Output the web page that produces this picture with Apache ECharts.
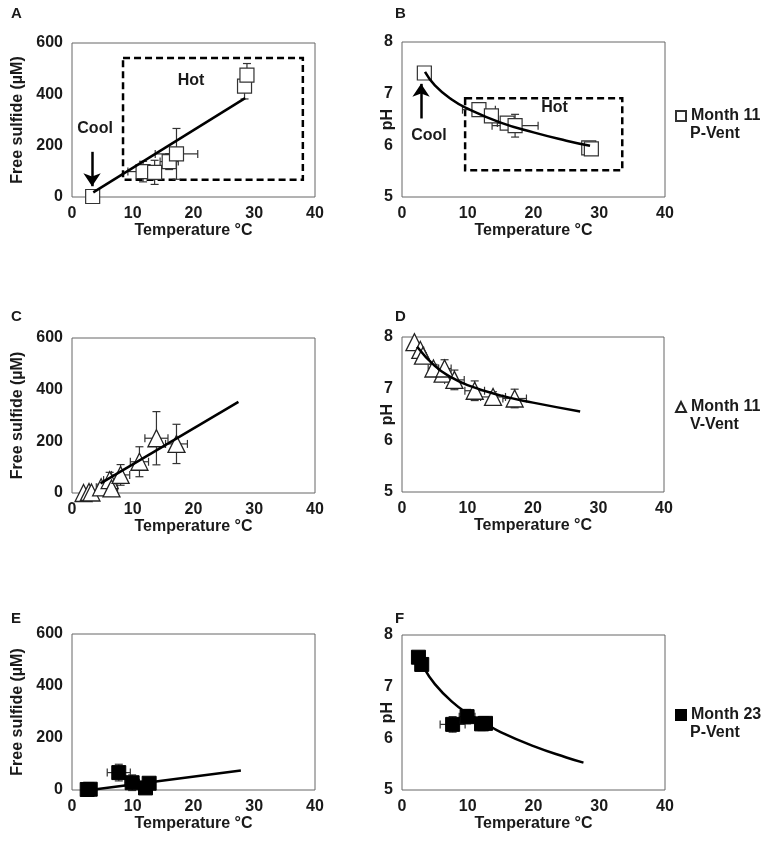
<!DOCTYPE html>
<html>
<head>
<meta charset="utf-8">
<script src="https://cdn.jsdelivr.net/npm/echarts@6/dist/echarts.min.js"></script>
<style>
html, body { margin: 0; padding: 0; background: #fff; }
#main { width: 764px; height: 852px; }
</style>
</head>
<body>
<div id="main"></div>
<script>
// Month 11 P-Vent (panels A, B)
var tempP11 = [3.4, 11.7, 13.6, 16.0, 17.2, 28.4, 28.8];
var tempErrP11 = [0, 2.5, 1.0, 1.5, 3.5, 0, 0];
var sulfideP11 = [2, 99, 96, 138, 168, 432, 475];
var sulfideErrP11 = [0, 40, 47, 31, 99, 50, 45];
var pHP11 = [7.40, 6.69, 6.57, 6.43, 6.38, 5.95, 5.93];
var pHErrP11 = [0, 0.08, 0.12, 0.1, 0.22, 0.03, 0.03];

// Month 11 V-Vent (panels C, D)
var tempV11 = [1.9, 2.8, 3.2, 4.8, 6.2, 6.5, 8.0, 11.1, 13.9, 17.2];
var tempErrV11 = [0, 0, 0, 0.8, 1.0, 1.0, 1.5, 1.5, 1.9, 1.8];
var sulfideV11 = [0, 4, 2, 22, 50, 18, 70, 121, 212, 190];
var sulfideErrV11 = [0, 0, 0, 12, 30, 15, 40, 58, 103, 76];
var pHV11 = [7.90, 7.75, 7.64, 7.39, 7.29, 7.39, 7.17, 6.96, 6.84, 6.81];
var pHErrV11 = [0, 0.05, 0.05, 0.08, 0.1, 0.17, 0.19, 0.19, 0.1, 0.18];

// Month 23 P-Vent (panels E, F)
var tempP23 = [2.5, 3.0, 7.7, 9.9, 12.1, 12.7];
var tempErrP23 = [0, 0, 1.9, 1.2, 0.5, 0.5];
var sulfideP23 = [2, 3, 67, 28, 8, 26];
var sulfideErrP23 = [0, 0, 32, 30, 10, 10];
var pHP23 = [7.57, 7.43, 6.27, 6.42, 6.28, 6.29];
var pHErrP23 = [0, 0, 0.15, 0.14, 0.13, 0.13];

// trend lines
var fitSulfideP11X = [3.5, 28.5];
var fitSulfideP11Y = [18, 385];
var fitPHP11X = [3.5, 5, 7.5, 10, 15, 20, 25, 28.6];
var fitPHP11Y = [7.42, 7.16, 6.89, 6.71, 6.44, 6.25, 6.09, 5.99];
var fitSulfideV11X = [4.7, 27.4];
var fitSulfideV11Y = [37, 353];
var fitPHV11X = [2.3, 5, 7.5, 10, 15, 20, 27.2];
var fitPHV11Y = [7.81, 7.44, 7.22, 7.07, 6.87, 6.73, 6.56];
var fitSulfideP23X = [3, 27.8];
var fitSulfideP23Y = [0, 75];
var fitPHP23X = [3.4, 5, 7.5, 10, 12.5, 15, 20, 25, 27.6];
var fitPHP23Y = [7.35, 7.05, 6.72, 6.48, 6.3, 6.12, 5.85, 5.63, 5.53];

var tempTicks = [0, 10, 20, 30, 40];
var sulfideTicks = [0, 200, 400, 600];
var pHTicks = [5, 6, 7, 8];

var seriesNames = ['Month 11 P-Vent', 'Month 11 V-Vent', 'Month 23 P-Vent'];
var legendLine1 = ['Month 11', 'Month 11', 'Month 23'];
var legendLine2 = ['P-Vent', 'V-Vent', 'P-Vent'];

function zip(a, b) {
    var out = [];
    for (var i = 0; i < a.length; i++) out.push([a[i], b[i]]);
    return out;
}
function zip4(a, b, c, d) {
    var out = [];
    for (var i = 0; i < a.length; i++) out.push([a[i], b[i], c[i], d[i]]);
    return out;
}

var font = '"Liberation Sans", Arial, sans-serif';
var ink = '#1a1a1a';

function errorBarRender(params, api) {
    var x = api.value(0), y = api.value(1), xe = api.value(2), ye = api.value(3);
    var st = { stroke: '#333', lineWidth: 1.2, fill: null };
    var cap = 4;
    var kids = [];
    if (ye > 0) {
        var t = api.coord([x, y + ye]);
        var b = api.coord([x, y - ye]);
        kids.push({ type: 'line', shape: { x1: t[0], y1: t[1], x2: b[0], y2: b[1] }, style: st });
        kids.push({ type: 'line', shape: { x1: t[0] - cap, y1: t[1], x2: t[0] + cap, y2: t[1] }, style: st });
        kids.push({ type: 'line', shape: { x1: b[0] - cap, y1: b[1], x2: b[0] + cap, y2: b[1] }, style: st });
    }
    if (xe > 0) {
        var l = api.coord([x - xe, y]);
        var r = api.coord([x + xe, y]);
        kids.push({ type: 'line', shape: { x1: l[0], y1: l[1], x2: r[0], y2: r[1] }, style: st });
        kids.push({ type: 'line', shape: { x1: l[0], y1: l[1] - cap, x2: l[0], y2: l[1] + cap }, style: st });
        kids.push({ type: 'line', shape: { x1: r[0], y1: r[1] - cap, x2: r[0], y2: r[1] + cap }, style: st });
    }
    return { type: 'group', children: kids };
}

var grids = [
    { left: 72, top: 43, width: 243, height: 154 },
    { left: 402, top: 42, width: 263, height: 155 },
    { left: 72, top: 338, width: 243, height: 155 },
    { left: 402, top: 337, width: 262, height: 155 },
    { left: 72, top: 634, width: 243, height: 156 },
    { left: 402, top: 635, width: 263, height: 155 }
];
grids.forEach(function (g) {
    g.show = true;
    g.borderColor = '#666';
    g.borderWidth = 1;
    g.backgroundColor = 'transparent';
});

var xAxes = grids.map(function (g, i) {
    return {
        gridIndex: i,
        type: 'value',
        min: tempTicks[0],
        max: tempTicks[tempTicks.length - 1],
        interval: 10,
        name: 'Temperature \u00b0C',
        nameLocation: 'middle',
        nameGap: 26,
        nameMoveOverlap: false,
        nameTextStyle: { fontFamily: font, fontWeight: 'bold', fontSize: 16, color: ink },
        axisLine: { show: false },
        axisTick: { show: false },
        splitLine: { show: false },
        axisLabel: { fontFamily: font, fontWeight: 'bold', fontSize: 16, color: ink, margin: 9 }
    };
});

var yAxes = grids.map(function (g, i) {
    var isPH = (i % 2 === 1);
    return {
        gridIndex: i,
        type: 'value',
        min: isPH ? pHTicks[0] : sulfideTicks[0],
        max: isPH ? pHTicks[pHTicks.length - 1] : sulfideTicks[sulfideTicks.length - 1],
        interval: isPH ? 1 : 200,
        name: isPH ? 'pH' : 'Free sulfide (\u00b5M)',
        nameLocation: 'middle',
        nameGap: isPH ? 6 : 46,
        nameMoveOverlap: !isPH,
        nameTextStyle: { fontFamily: font, fontWeight: 'bold', fontSize: 16, color: ink },
        axisLine: { show: false },
        axisTick: { show: false },
        splitLine: { show: false },
        axisLabel: { fontFamily: font, fontWeight: 'bold', fontSize: 16, color: ink, margin: 9 }
    };
});

var markerStyles = [
    { symbol: 'rect', size: 14, itemStyle: { color: '#fff', borderColor: '#333', borderWidth: 1.2, opacity: 1 } },
    { symbol: 'triangle', size: 17, itemStyle: { color: '#fff', borderColor: '#222', borderWidth: 1.3, opacity: 1 } },
    { symbol: 'rect', size: 14, itemStyle: { color: '#000', borderColor: '#000', borderWidth: 1, opacity: 1 } }
];

var panels = [
    { grid: 0, set: 0, pts: zip(tempP11, sulfideP11), err: zip4(tempP11, sulfideP11, tempErrP11, sulfideErrP11), fit: zip(fitSulfideP11X, fitSulfideP11Y) },
    { grid: 1, set: 0, pts: zip(tempP11, pHP11), err: zip4(tempP11, pHP11, tempErrP11, pHErrP11), fit: zip(fitPHP11X, fitPHP11Y) },
    { grid: 2, set: 1, pts: zip(tempV11, sulfideV11), err: zip4(tempV11, sulfideV11, tempErrV11, sulfideErrV11), fit: zip(fitSulfideV11X, fitSulfideV11Y) },
    { grid: 3, set: 1, pts: zip(tempV11, pHV11), err: zip4(tempV11, pHV11, tempErrV11, pHErrV11), fit: zip(fitPHV11X, fitPHV11Y) },
    { grid: 4, set: 2, pts: zip(tempP23, sulfideP23), err: zip4(tempP23, sulfideP23, tempErrP23, sulfideErrP23), fit: zip(fitSulfideP23X, fitSulfideP23Y) },
    { grid: 5, set: 2, pts: zip(tempP23, pHP23), err: zip4(tempP23, pHP23, tempErrP23, pHErrP23), fit: zip(fitPHP23X, fitPHP23Y) }
];

var annoLabel = { show: true, position: 'inside', formatter: '{b}', fontFamily: font, fontWeight: 'bold', fontSize: 16, color: ink };
var boxStyle = { color: 'rgba(0,0,0,0)', borderColor: '#000', borderWidth: 2.5, borderType: [7, 4] };
var arrowLine = { color: '#000', width: 2.5, type: 'solid' };

// annotations for panels A and B
var extras = {
    0: {
        markArea: { silent: true, itemStyle: boxStyle, label: { show: false }, data: [[{ coord: [8.4, 542] }, { coord: [38, 67] }]] },
        markLine: { silent: true, symbol: ['none', 'arrow'], symbolSize: 13, itemStyle: { color: '#000' }, lineStyle: arrowLine, label: { show: false }, data: [[{ coord: [3.3, 176] }, { coord: [3.3, 42] }]] },
        markPoint: { silent: true, symbol: 'circle', symbolSize: 1, itemStyle: { color: 'rgba(0,0,0,0)' }, label: annoLabel,
            data: [{ name: 'Hot', coord: [19.6, 452] }, { name: 'Cool', coord: [3.8, 267] }] }
    },
    1: {
        markArea: { silent: true, itemStyle: boxStyle, label: { show: false }, data: [[{ coord: [9.6, 6.91] }, { coord: [33.5, 5.52] }]] },
        markLine: { silent: true, symbol: ['none', 'arrow'], symbolSize: 13, itemStyle: { color: '#000' }, lineStyle: arrowLine, label: { show: false }, data: [[{ coord: [2.9, 6.52] }, { coord: [2.9, 7.19] }]] },
        markPoint: { silent: true, symbol: 'circle', symbolSize: 1, itemStyle: { color: 'rgba(0,0,0,0)' }, label: annoLabel,
            data: [{ name: 'Hot', coord: [23.2, 6.74] }, { name: 'Cool', coord: [4.1, 6.18] }] }
    }
};

var series = [];
panels.forEach(function (p) {
    var m = markerStyles[p.set];
    series.push({
        type: 'custom',
        name: 'err' + p.grid,
        xAxisIndex: p.grid, yAxisIndex: p.grid,
        renderItem: errorBarRender,
        encode: { x: 0, y: 1 },
        data: p.err,
        silent: true,
        z: 1
    });
    var sc = {
        type: 'scatter',
        name: seriesNames[p.set],
        xAxisIndex: p.grid, yAxisIndex: p.grid,
        symbol: m.symbol,
        symbolSize: m.size,
        itemStyle: m.itemStyle,
        data: p.pts,
        z: 2
    };
    var ex = extras[p.grid];
    if (ex) {
        sc.markArea = ex.markArea;
        sc.markLine = ex.markLine;
        sc.markPoint = ex.markPoint;
    }
    series.push(sc);
    series.push({
        type: 'line',
        name: 'fit' + p.grid,
        xAxisIndex: p.grid, yAxisIndex: p.grid,
        data: p.fit,
        smooth: true,
        showSymbol: false,
        lineStyle: { color: '#000', width: 2.5 },
        silent: true,
        z: 3
    });
});

var legendTops = [108, 399, 707];
function makeLegend(k, icon) {
    return {
        data: [{ name: seriesNames[k], icon: icon }],
        left: 675,
        top: legendTops[k],
        padding: 0,
        itemWidth: 10,
        itemHeight: 10,
        selectedMode: false,
        formatter: function () { return legendLine1[k]; },
        textStyle: { fontFamily: font, fontWeight: 'bold', fontSize: 16, color: ink }
    };
}

var graphics = [
    { type: 'text', left: 11, top: 6, style: { text: 'A', font: 'bold 15px ' + font, fill: ink } },
    { type: 'text', left: 395, top: 6, style: { text: 'B', font: 'bold 15px ' + font, fill: ink } },
    { type: 'text', left: 11, top: 309, style: { text: 'C', font: 'bold 15px ' + font, fill: ink } },
    { type: 'text', left: 395, top: 309, style: { text: 'D', font: 'bold 15px ' + font, fill: ink } },
    { type: 'text', left: 11, top: 611, style: { text: 'E', font: 'bold 15px ' + font, fill: ink } },
    { type: 'text', left: 395, top: 611, style: { text: 'F', font: 'bold 15px ' + font, fill: ink } }
];
legendTops.forEach(function (t, k) {
    graphics.push({ type: 'text', left: 690, top: t + 18, style: { text: legendLine2[k], font: 'bold 16px ' + font, fill: ink } });
});

var chart = echarts.init(document.getElementById('main'));
var option = {
    animation: false,
    backgroundColor: '#fff',
    grid: grids,
    xAxis: xAxes,
    yAxis: yAxes,
    legend: [
        makeLegend(0, 'rect'),
        makeLegend(1, 'triangle'),
        makeLegend(2, 'rect')
    ],
    graphic: graphics,
    series: series
};
chart.setOption(option);
</script>
</body>
</html>
